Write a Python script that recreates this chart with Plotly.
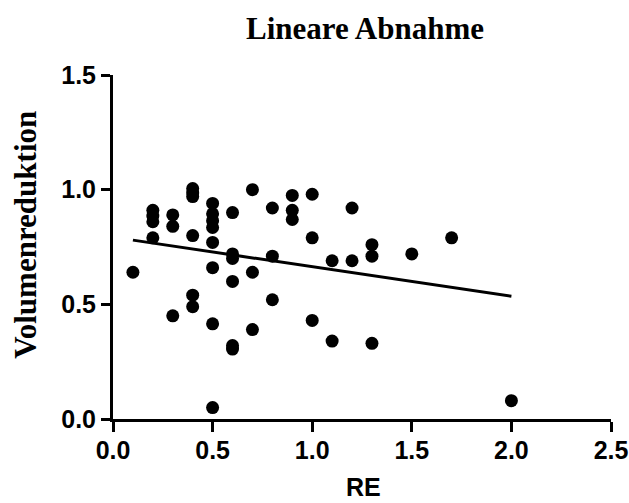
import plotly.graph_objects as go

# Data
re_values = [0.1,
             0.2, 0.2, 0.2, 0.2,
             0.3, 0.3, 0.3,
             0.4, 0.4, 0.4, 0.4, 0.4, 0.4,
             0.5, 0.5, 0.5, 0.5, 0.5, 0.5, 0.5, 0.5,
             0.6, 0.6, 0.6, 0.6, 0.6, 0.6,
             0.7, 0.7, 0.7,
             0.8, 0.8, 0.8,
             0.9, 0.9, 0.9,
             1.0, 1.0, 1.0,
             1.1, 1.1,
             1.2, 1.2,
             1.3, 1.3, 1.3,
             1.5, 1.7, 2.0]
vol_reduction = [0.64,
                 0.91, 0.885, 0.86, 0.79,
                 0.89, 0.84, 0.45,
                 1.005, 0.985, 0.97, 0.80, 0.54, 0.49,
                 0.94, 0.895, 0.865, 0.835, 0.77, 0.66, 0.415, 0.05,
                 0.90, 0.72, 0.70, 0.60, 0.32, 0.305,
                 1.00, 0.64, 0.39,
                 0.92, 0.71, 0.52,
                 0.975, 0.91, 0.87,
                 0.98, 0.79, 0.43,
                 0.69, 0.34,
                 0.92, 0.69,
                 0.76, 0.71, 0.33,
                 0.72, 0.79, 0.08]

fit_x = [0.1, 2.0]
fit_y = [0.78, 0.535]

x_ticks = [0.0, 0.5, 1.0, 1.5, 2.0, 2.5]
y_ticks = [0.0, 0.5, 1.0, 1.5]

title_text = "Lineare Abnahme"
x_title = "RE"
y_title = "Volumenreduktion"

fig = go.Figure()
fig.add_trace(go.Scatter(
    x=re_values, y=vol_reduction, mode="markers",
    marker=dict(color="black", size=13),
    cliponaxis=False, showlegend=False,
))
fig.add_trace(go.Scatter(
    x=fit_x, y=fit_y, mode="lines",
    line=dict(color="black", width=3),
    cliponaxis=False, showlegend=False,
))

tick_font = dict(family="Liberation Sans, Arial", size=25, color="black", weight="bold")

fig.update_layout(
    width=629, height=503,
    margin=dict(l=113, r=18, t=75, b=84),
    paper_bgcolor="white", plot_bgcolor="white",
    xaxis=dict(
        range=[0, 2.5], tickvals=x_ticks, ticktext=[f"{v:.1f}" for v in x_ticks],
        showline=True, linecolor="black", linewidth=3,
        ticks="outside", ticklen=10, tickwidth=3, tickcolor="black",
        showgrid=False, zeroline=False, tickfont=tick_font,
        ticklabelstandoff=-3, automargin=False,
    ),
    yaxis=dict(
        range=[0, 1.5], tickvals=y_ticks, ticktext=[f"{v:.1f}" for v in y_ticks],
        showline=True, linecolor="black", linewidth=3,
        ticks="outside", ticklen=9, tickwidth=3, tickcolor="black",
        showgrid=False, zeroline=False, tickfont=tick_font,
        ticklabelstandoff=0, automargin=False,
    ),
    annotations=[
        dict(text=title_text, xref="paper", yref="paper", x=0.507, y=1.135,
             xanchor="center", yanchor="middle", showarrow=False,
             font=dict(family="Liberation Serif, Times New Roman", size=31,
                       color="black", weight="bold")),
        dict(text=y_title, xref="paper", yref="paper", x=-0.175, y=0.535,
             xanchor="center", yanchor="middle", showarrow=False, textangle=-90,
             font=dict(family="Liberation Serif, Times New Roman", size=31,
                       color="black", weight="bold")),
        dict(text=x_title, xref="paper", yref="paper", x=0.503, y=-0.199,
             xanchor="center", yanchor="middle", showarrow=False,
             font=dict(family="Liberation Sans, Arial", size=25,
                       color="black", weight="bold")),
    ],
)

fig.write_html("out.html", config={"displayModeBar": False},
               post_script="document.body.style.margin='0';document.body.style.overflow='hidden';")
